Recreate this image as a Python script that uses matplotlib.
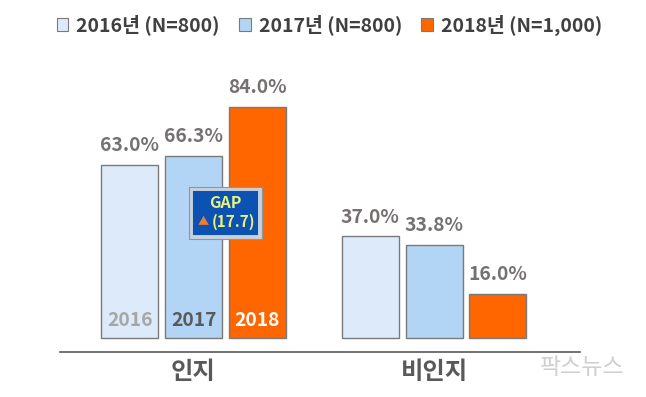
import matplotlib
matplotlib.use("Agg")
import matplotlib.pyplot as plt
from matplotlib.patches import Patch, Rectangle

plt.rcParams['font.family'] = ['Noto Sans CJK KR', 'DejaVu Sans']

# data
categories = ['인지', '비인지']
years = ['2016', '2017', '2018']
legend_labels = ['2016년 (N=800)', '2017년 (N=800)', '2018년 (N=1,000)']
v2016 = [63.0, 37.0]
v2017 = [66.3, 33.8]
v2018 = [84.0, 16.0]
gap_value = 17.7

series = [v2016, v2017, v2018]
colors = ['#DCEAF9', '#B3D5F5', '#FF6600']
year_colors = ['#A6A6A6', '#595959', '#FFFFFF']
offsets = [-0.265, 0, 0.265]
width = 0.237

fig = plt.figure(figsize=(6.46, 3.97), dpi=100)
ax = fig.add_axes([60/646, 45/397, 520/646, 290/397])

for i in range(3):
    xs = [c + offsets[i] for c in range(len(categories))]
    bars = ax.bar(xs, series[i], width, color=colors[i], edgecolor='#7a7a7a', linewidth=1)
    for b, v in zip(bars, series[i]):
        ax.annotate(f'{v:.1f}%', (b.get_x() + b.get_width()/2, v),
                    xytext=(0, 7), textcoords='offset points',
                    ha='center', va='bottom', fontsize=13.8, fontweight='bold', color='#767171')
    # year label inside the first group's bars
    ax.annotate(years[i], (xs[0], 0), xytext=(0, 12.5), textcoords='offset points',
                ha='center', va='center', fontsize=13.8, fontweight='bold', color=year_colors[i])

ax.set_xlim(-0.555, 1.607)
ax.set_ylim(-5.09, 100.36)
for s in ['top', 'right', 'left']:
    ax.spines[s].set_visible(False)
ax.spines['bottom'].set_color('#595959')
ax.spines['bottom'].set_linewidth(1.2)
ax.set_yticks([])
ax.set_xticks(range(len(categories)))
ax.set_xticklabels(categories, fontsize=17.5, fontweight='bold', color='#595959')
ax.tick_params(axis='x', length=0, pad=6)

# GAP box between 2017 and 2018 bars of the first group
gx = (offsets[1] + offsets[2]) / 2
gy = 45.45
bw, bh = 0.287, 17.45
ax.add_patch(Rectangle((gx - bw/2, gy - bh/2), bw, bh, facecolor='#0B52B3',
                       edgecolor='#C9D2DC', linewidth=2.8, zorder=5))
ax.add_patch(Rectangle((gx - bw/2 - 0.007, gy - bh/2 - 0.7), bw + 0.014, bh + 1.4, facecolor='none',
                       edgecolor='#8A96A3', linewidth=0.8, zorder=5))
ax.text(gx, gy + 3.8, 'GAP', ha='center', va='center', fontsize=11.5, fontweight='bold',
        color='#E8F27C', zorder=6)
ax.text(gx - 0.09, gy - 3.3, '▲', ha='center', va='center', fontsize=8,
        color='#ED7D31', zorder=6)
ax.text(gx + 0.035, gy - 3.3, f'({gap_value})', ha='center', va='center', fontsize=11,
        fontweight='bold', color='#E8F27C', zorder=6)

# legend
handles = [Patch(facecolor=c, edgecolor='#7a7a7a', linewidth=0.8) for c in colors]
leg = fig.legend(handles, legend_labels, loc='center', bbox_to_anchor=(0.51, 0.937), ncol=3,
                 frameon=False, fontsize=14, handlelength=0.6, handleheight=0.6,
                 handletextpad=0.4, columnspacing=1.0, borderaxespad=0)
for t in leg.get_texts():
    t.set_color('#404040')
    t.set_fontweight('bold')

# watermark
fig.text(582/646, 1 - 368/397, '팍스뉴스', ha='center', va='center', fontsize=16.5,
         color='#CFCFCF')

fig.savefig('out.png', dpi=100)
